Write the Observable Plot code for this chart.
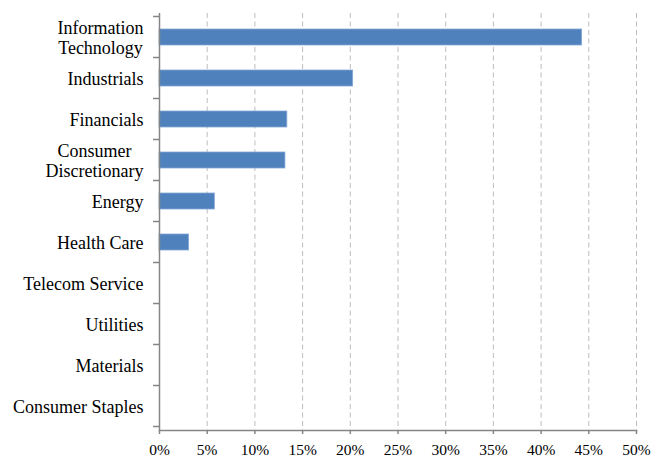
<!DOCTYPE html>
<html><head><meta charset="utf-8">
<script src="https://cdn.jsdelivr.net/npm/d3@7"></script>
<script src="https://cdn.jsdelivr.net/npm/@observablehq/plot@0.6"></script>
<style>html,body{margin:0;padding:0;background:#fff}</style>
</head><body><div id="chart"></div>
<script>
const sectors = ["Information Technology","Industrials","Financials","Consumer Discretionary","Energy","Health Care","Telecom Service","Utilities","Materials","Consumer Staples"];
const weights = [0.443,0.203,0.134,0.132,0.058,0.031,0,0,0,0];
const xTicks = [0,0.05,0.10,0.15,0.20,0.25,0.30,0.35,0.40,0.45,0.50];
const labelLines = {"Information Technology":"Information\nTechnology","Consumer Discretionary":"Consumer\nDiscretionary"};

const data = sectors.map((s,i)=>({sector:s, weight:weights[i]}));
const axisColor = "#868686";

function bandTicks(index, scales, values, dims) {
  const y = scales.y;
  const desc = scales.scales ? scales.scales.y : null;
  const step = y.step ? y.step() : desc.step;
  const bw = y.bandwidth ? y.bandwidth() : desc.bandwidth;
  const off = (step - bw) / 2;
  const ys = sectors.map(s => y(s) - off);
  ys.push(ys[ys.length-1] + step);
  const g = d3.create("svg:g").attr("stroke", axisColor).attr("stroke-width", 1.5);
  g.selectAll("line").data(ys).join("line")
    .attr("x1", dims.marginLeft - 6).attr("x2", dims.marginLeft)
    .attr("y1", d => d).attr("y2", d => d);
  return g.node();
}

const chart = Plot.plot({
  width: 653, height: 457,
  marginLeft: 159, marginRight: 17, marginTop: 13, marginBottom: 27,
  style: {fontFamily: "'Liberation Serif', 'Times New Roman', serif", color: "#000", background: "#fff"},
  x: {domain: [0, 0.5], axis: null},
  y: {domain: sectors, paddingInner: 0.62, paddingOuter: 0.31, axis: null},
  marks: [
    Plot.gridX(xTicks.slice(1), {stroke: "#BDBDBD", strokeOpacity: 1, strokeWidth: 1, strokeDasharray: "5,3.5"}),
    Plot.barX(data, {x: "weight", y: "sector", fill: "#4F81BD", stroke: "#86A8D6", strokeWidth: 0.8}),
    Plot.ruleX([0], {stroke: axisColor, strokeWidth: 1.5}),
    Plot.frame({anchor: "bottom", stroke: axisColor, strokeWidth: 1.5}),
    bandTicks,
    Plot.axisX(xTicks, {label: null, tickFormat: d3.format(".0%"), tickSize: 4, tickPadding: 9, fontSize: 15.5, stroke: axisColor, strokeWidth: 1.5, fill: "#000"}),
    Plot.axisY({label: null, tickSize: 0, tickPadding: 16, fontSize: 18, lineHeight: 1.11, fill: "#000", tickFormat: s => labelLines[s] ?? s})
  ]
});
document.getElementById("chart").appendChild(chart);

// center multi-line labels within their block (right-aligned block)
chart.querySelectorAll("text").forEach(t => {
  const spans = t.querySelectorAll("tspan");
  if (spans.length > 1) {
    const ws = Array.from(spans, s => s.getComputedTextLength());
    const maxW = Math.max(...ws);
    spans.forEach((s, i) => s.setAttribute("x", -(maxW - ws[i]) / 2));
  }
});
</script>
</body></html>
